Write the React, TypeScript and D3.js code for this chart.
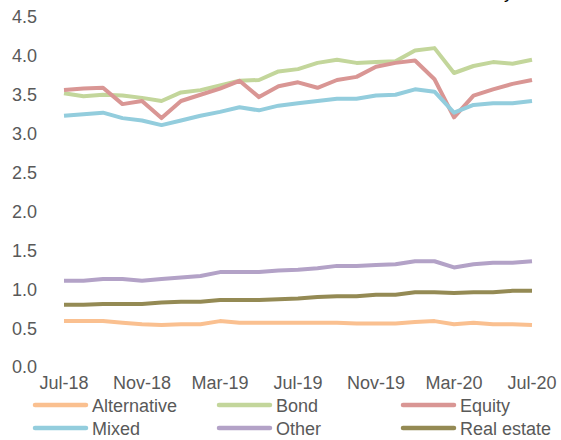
import React from "react";
import * as d3 from "d3";

// monthly values, Jul-18 .. Jul-20
const months = [
  "Jul-18", "Aug-18", "Sep-18", "Oct-18", "Nov-18", "Dec-18", "Jan-19", "Feb-19", "Mar-19",
  "Apr-19", "May-19", "Jun-19", "Jul-19", "Aug-19", "Sep-19", "Oct-19", "Nov-19", "Dec-19",
  "Jan-20", "Feb-20", "Mar-20", "Apr-20", "May-20", "Jun-20", "Jul-20",
];
const tickMonths = ["Jul-18", "Nov-18", "Mar-19", "Jul-19", "Nov-19", "Mar-20", "Jul-20"];
const yTicks = [0, 0.5, 1, 1.5, 2, 2.5, 3, 3.5, 4, 4.5];

const alternative = [0.59, 0.59, 0.59, 0.57, 0.55, 0.54, 0.55, 0.55, 0.59, 0.57, 0.57, 0.57, 0.57, 0.57, 0.57, 0.56, 0.56, 0.56, 0.58, 0.59, 0.55, 0.57, 0.55, 0.55, 0.54];
const bond = [3.52, 3.48, 3.5, 3.49, 3.46, 3.42, 3.53, 3.56, 3.62, 3.68, 3.69, 3.8, 3.83, 3.91, 3.95, 3.91, 3.92, 3.93, 4.07, 4.1, 3.78, 3.87, 3.92, 3.9, 3.95];
const equity = [3.56, 3.58, 3.59, 3.38, 3.42, 3.2, 3.42, 3.5, 3.58, 3.68, 3.47, 3.61, 3.66, 3.59, 3.69, 3.73, 3.86, 3.91, 3.94, 3.7, 3.21, 3.49, 3.57, 3.64, 3.69];
const mixed = [3.23, 3.25, 3.27, 3.2, 3.17, 3.11, 3.17, 3.23, 3.28, 3.34, 3.3, 3.36, 3.39, 3.42, 3.45, 3.45, 3.49, 3.5, 3.57, 3.54, 3.27, 3.37, 3.39, 3.39, 3.42];
const other = [1.11, 1.11, 1.13, 1.13, 1.11, 1.13, 1.15, 1.17, 1.22, 1.22, 1.22, 1.24, 1.25, 1.27, 1.3, 1.3, 1.31, 1.32, 1.36, 1.36, 1.28, 1.32, 1.34, 1.34, 1.36];
const realEstate = [0.8, 0.8, 0.81, 0.81, 0.81, 0.83, 0.84, 0.84, 0.86, 0.86, 0.86, 0.87, 0.88, 0.9, 0.91, 0.91, 0.93, 0.93, 0.96, 0.96, 0.95, 0.96, 0.96, 0.98, 0.98];

const seriesNames = ["Alternative", "Bond", "Equity", "Mixed", "Other", "Real estate"];
const seriesValues = [alternative, bond, equity, mixed, other, realEstate];
const seriesColors = ["#FAC090", "#C3D69B", "#D99694", "#93CDDD", "#B3A2C7", "#948A54"];

const W = 561;
const H = 440;
const font = "'Liberation Sans', Arial, sans-serif";
const textColor = "#595959";

export default function App() {
  const x = d3.scalePoint<string>().domain(months).range([64, 532]);
  const y = d3.scaleLinear().domain([0, 4.5]).range([367, 17]);

  const line = d3
    .line<number>()
    .x((_, i) => x(months[i]) as number)
    .y((d) => y(d));

  return (
    <div style={{ position: "absolute", left: 0, top: 0 }}>
      <svg width={W} height={H} style={{ display: "block", fontFamily: font }}>
        <rect width={W} height={H} fill="#fff" />
        {/* clipped title fragment */}
        <text x={504} y={-2} fontSize={18} fill="#000">y</text>

        {yTicks.map((t) => (
          <text
            key={t}
            x={37}
            y={y(t)}
            dy="0.36em"
            textAnchor="end"
            fontSize={18}
            fill={textColor}
          >
            {t.toFixed(1)}
          </text>
        ))}

        {tickMonths.map((m) => (
          <text key={m} x={x(m)} y={389} textAnchor="middle" fontSize={18} fill={textColor}>
            {m}
          </text>
        ))}

        {seriesValues.map((vals, i) => (
          <path
            key={seriesNames[i]}
            d={line(vals) ?? ""}
            fill="none"
            stroke={seriesColors[i]}
            strokeWidth={4}
            strokeLinejoin="round"
          />
        ))}

        {seriesNames.map((name, i) => {
          const col = i % 3;
          const row = Math.floor(i / 3);
          const lx = 35 + col * 184;
          const ly = 405 + row * 23;
          return (
            <g key={name}>
              <line
                x1={lx}
                x2={lx + 51}
                y1={ly}
                y2={ly}
                stroke={seriesColors[i]}
                strokeWidth={4.5}
                strokeLinecap="round"
              />
              <text x={lx + 57} y={ly + 7} fontSize={18} fill={textColor}>
                {name}
              </text>
            </g>
          );
        })}
      </svg>
    </div>
  );
}
